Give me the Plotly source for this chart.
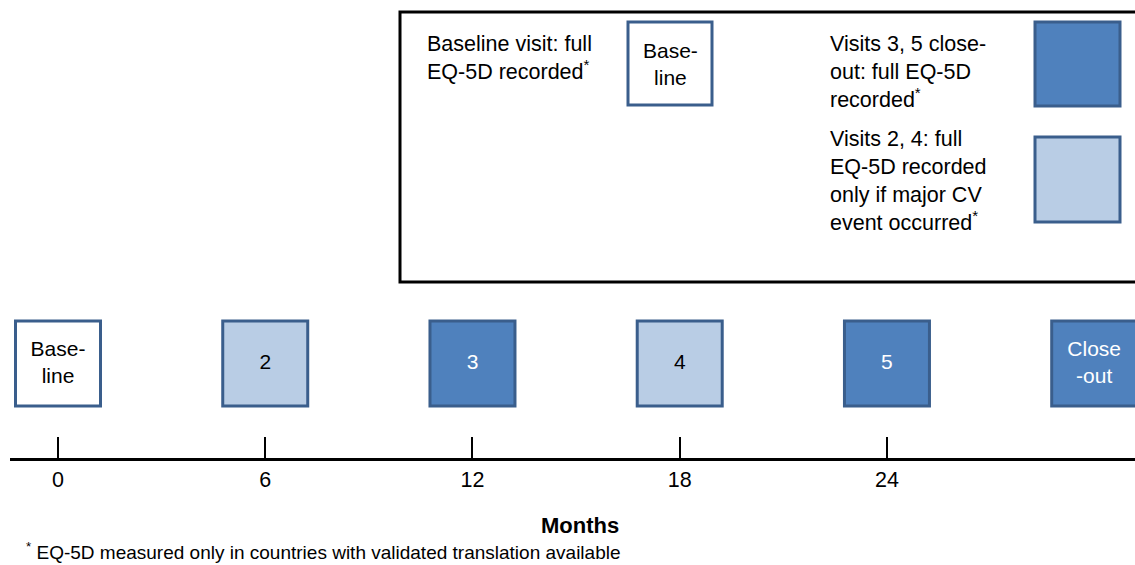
import plotly.graph_objects as go

# ---- data ----
visit_labels = ["Base-<br>line", "2", "3", "4", "5", "Close<br>-out"]
visit_months = [0, 6, 12, 18, 24, 30]
visit_types = ["baseline", "optional", "full", "optional", "full", "full"]
tick_months = [0, 6, 12, 18, 24]
tick_labels = ["0", "6", "12", "18", "24"]

legend_texts = [
    "Baseline visit: full<br>EQ-5D recorded<sup>*</sup>",
    "Visits 3, 5 close-<br>out: full EQ-5D<br>recorded<sup>*</sup>",
    "Visits 2, 4: full<br>EQ-5D recorded<br>only if major CV<br>event occurred<sup>*</sup>",
]
footnote = "<sup>*</sup> EQ-5D measured only in countries with validated translation available"
axis_title = "<b>Months</b>"

# ---- styles ----
FONT = "Liberation Sans, Arial, sans-serif"
BORDER = "#3A5E8C"
FILL = {"baseline": "#FFFFFF", "optional": "#B9CDE5", "full": "#4F81BD"}
TXT = {"baseline": "black", "optional": "black", "full": "white"}

W, H = 1135, 565
L = 10
AX_Y = 458
plot_w = W - L
scale = 34.54
xmin = -(58 - L) / scale
xmax = xmin + plot_w / scale
half = 42.5 / scale

def px(p):
    return (p - L) / plot_w

def py(p):
    return (AX_Y - p) / AX_Y

fig = go.Figure()

shapes = []
for m, t in zip(visit_months, visit_types):
    shapes.append(dict(type="rect", xref="x", yref="y", x0=m - half, x1=m + half,
                       y0=321, y1=406, fillcolor=FILL[t],
                       line=dict(color=BORDER, width=3), layer="below"))

fig.add_trace(go.Scatter(
    x=visit_months, y=[364] * len(visit_months), mode="text",
    text=visit_labels, textposition="middle center",
    textfont=dict(family=FONT, size=21, color=[TXT[t] for t in visit_types]),
    hoverinfo="skip", showlegend=False, cliponaxis=False))

# legend frame
shapes.append(dict(type="rect", xref="paper", yref="y", x0=px(400), x1=px(1142),
                   y0=12, y1=282, line=dict(color="black", width=3), fillcolor="rgba(0,0,0,0)"))
# legend sample boxes
legend_boxes = [(628, 712, 22, 105, "baseline"), (1035, 1120, 22, 106, "full"),
                (1035, 1120, 137, 222, "optional")]
for x0, x1, y0, y1, t in legend_boxes:
    shapes.append(dict(type="rect", xref="paper", yref="y", x0=px(x0), x1=px(x1),
                       y0=y0, y1=y1, fillcolor=FILL[t], line=dict(color=BORDER, width=3)))

annotations = []
annotations.append(dict(xref="paper", yref="y", x=px(670), y=64, text="Base-<br>line",
                        xanchor="center", yanchor="middle",
                        showarrow=False, font=dict(family=FONT, size=21, color="black")))
for (x, y), txt in zip([(425, 30), (828, 30), (828, 125)], legend_texts):
    annotations.append(dict(xref="paper", yref="y", x=px(x), y=y, text=txt,
                            xanchor="left", yanchor="top", align="left", showarrow=False,
                            font=dict(family=FONT, size=21.5, color="black")))
annotations.append(dict(xref="paper", yref="paper", x=px(580), y=py(525), text=axis_title,
                        xanchor="center", yanchor="middle",
                        showarrow=False, font=dict(family=FONT, size=22, color="black")))
annotations.append(dict(xref="paper", yref="paper", x=px(24), y=py(551), text=footnote,
                        xanchor="left", yanchor="middle", showarrow=False,
                        font=dict(family=FONT, size=19, color="black")))

fig.update_layout(
    width=W, height=H, margin=dict(l=L, r=0, t=0, b=H - AX_Y),
    paper_bgcolor="white", plot_bgcolor="white",
    shapes=shapes, annotations=annotations, showlegend=False,
    xaxis=dict(range=[xmin, xmax], tickvals=tick_months, ticktext=tick_labels,
               ticks="inside", ticklen=21, tickwidth=2, tickcolor="black",
               showline=True, linecolor="black", linewidth=2.5, showgrid=False,
               zeroline=False, tickfont=dict(family=FONT, size=21.5, color="black"),
               fixedrange=True),
    yaxis=dict(range=[AX_Y, 0], visible=False, showgrid=False, zeroline=False,
               fixedrange=True),
)

fig.write_html("out.html", config={"displayModeBar": False},
               post_script="document.body.style.margin='0';")
